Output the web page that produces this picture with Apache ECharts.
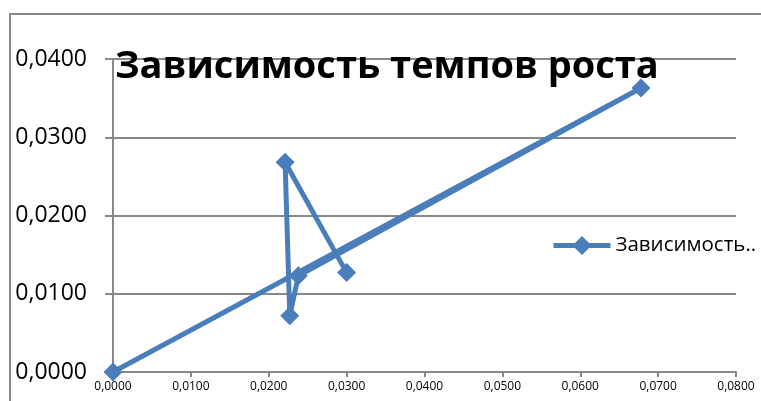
<!DOCTYPE html>
<html>
<head>
<meta charset="utf-8">
<script src="https://cdn.jsdelivr.net/npm/echarts@6/dist/echarts.min.js"></script>
<style>
html,body{margin:0;padding:0;background:#fff;}
#c{width:761px;height:401px;}
</style>
</head>
<body>
<div id="c"></div>
<script>
var titleText = 'Зависимость темпов роста';
var seriesName = 'Зависимость..';
var xValues = [0, 0.0678, 0.0238, 0.0227, 0.0221, 0.0300];
var yValues = [0, 0.0363, 0.0123, 0.0072, 0.0268, 0.0127];
var xTicks = ['0,0000','0,0100','0,0200','0,0300','0,0400','0,0500','0,0600','0,0700','0,0800'];
var yTicks = ['0,0000','0,0100','0,0200','0,0300','0,0400'];

var points = xValues.map(function(x, i){ return [x, yValues[i]]; });
var FONT = '"Open Sans", "Noto Sans", sans-serif';
var color = '#4a7ebb';

var chart = echarts.init(document.getElementById('c'));
chart.setOption({
  animation: false,
  backgroundColor: '#fff',
  title: {
    text: titleText,
    left: 110,
    top: 43,
    z: 10,
    textStyle: {fontFamily: FONT, fontSize: 38, fontWeight: 'bold', color: '#000'}
  },
  legend: {
    data: [seriesName],
    left: 546,
    top: 230,
    itemWidth: 57,
    itemHeight: 24,
    itemGap: 4,
    lineStyle: {width: 5},
    textStyle: {fontFamily: FONT, fontSize: 20.5, color: '#000', padding: [6, 0, 0, 0]}
  },
  graphic: [{
    type: 'rect',
    shape: {x: 10, y: 14, width: 800, height: 450},
    style: {fill: 'none', stroke: '#888', lineWidth: 2},
    silent: true, z: -1
  }],
  grid: {left: 113, right: 25, top: 59, bottom: 29},
  xAxis: {
    type: 'value', min: 0, max: 0.08, interval: 0.01,
    axisLine: {show: true, lineStyle: {color: '#888', width: 2}},
    axisTick: {show: true, length: 5, lineStyle: {color: '#888', width: 2}},
    splitLine: {show: false},
    axisLabel: {
      fontFamily: FONT, fontSize: 12, color: '#000', margin: 9,
      formatter: function(v){ return xTicks[Math.round(v / 0.01)]; }
    }
  },
  yAxis: {
    type: 'value', min: 0, max: 0.04, interval: 0.01,
    axisLine: {show: true, lineStyle: {color: '#888', width: 2}},
    axisTick: {show: true, length: 8, lineStyle: {color: '#888', width: 2}},
    splitLine: {show: true, lineStyle: {color: '#888', width: 2}},
    axisLabel: {
      fontFamily: FONT, fontSize: 23, color: '#000', margin: 26,
      formatter: function(v){ return yTicks[Math.round(v / 0.01)]; }
    }
  },
  series: [{
    name: seriesName,
    type: 'line',
    data: points,
    symbol: 'diamond',
    symbolSize: 19,
    showSymbol: true,
    lineStyle: {color: color, width: 5},
    itemStyle: {color: color},
    z: 3
  }]
});
</script>
</body>
</html>
